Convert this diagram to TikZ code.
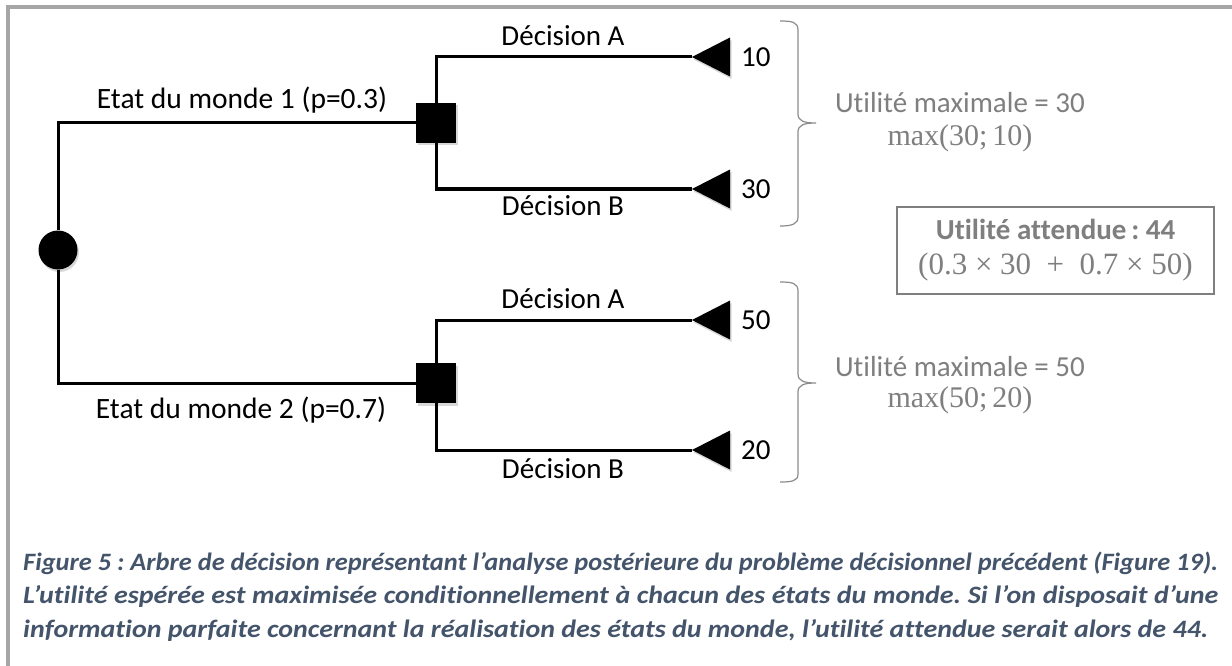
\documentclass[tikz,border=0pt]{standalone}
\usepackage{fontspec}
\setmainfont{Carlito}[Ligatures=NoCommon]
\newfontfamily\mathser{Liberation Serif}
\usepackage{graphicx}
\usetikzlibrary{shadows}
\frenchspacing
\definecolor{framegray}{HTML}{A6A6A6}
\definecolor{txtgray}{HTML}{7F7F7F}
\definecolor{bracegray}{HTML}{8C8C8C}
\definecolor{capblue}{HTML}{44546A}
\newlength\capw
\setlength\capw{1067pt}
\newcommand\capline[1]{\makebox[\capw][s]{#1}}
\newcommand\capfit[1]{\resizebox{\capw}{\height}{#1}}
\begin{document}
\begin{tikzpicture}[x=1pt,y=-1pt,
  branch/.style={line width=3pt, line join=miter},
  shad/.style={drop shadow={shadow xshift=1.5pt, shadow yshift=-2.5pt, opacity=0.3}},
  chance/.style={circle, fill=black, minimum size=39pt, inner sep=0pt, shad},
  decision/.style={rectangle, fill=black, minimum size=40pt, inner sep=0pt, shad},
  leaf/.style={fill=black, shad},
  statelbl/.style={font=\fontsize{29.5}{36}\selectfont, inner sep=0pt},
  declbl/.style={font=\fontsize{29}{34}\selectfont, inner sep=0pt},
  numlbl/.style={font=\fontsize{29}{34}\selectfont, inner sep=0pt, anchor=west},
  gtxt/.style={text=txtgray, font=\fontsize{29}{34}\selectfont, inner sep=0pt},
  mtxt/.style={text=txtgray, font=\mathser\fontsize{30}{34}\selectfont, inner sep=0pt},
  bracestyle/.style={draw=bracegray, line width=1.2pt},
  resbox/.style={draw=txtgray, line width=1.5pt, text=txtgray, align=center,
     minimum width=317pt, minimum height=87pt, inner sep=0pt,
     font=\fontsize{29}{35}\selectfont}
]
\useasboundingbox (0,0) rectangle (1232,666);
\fill[white] (0,0) rectangle (1232,666);
% frame
\draw[framegray, line width=4pt] (8,666) -- (8,7) -- (1232,7);

% nodes
\node[chance] (c) at (58,250) {};
\node[decision] (d1) at (436,123) {};
\node[decision] (d2) at (436,383) {};
\coordinate (t1) at (692,57);
\coordinate (t2) at (692,189);
\coordinate (t3) at (692,320);
\coordinate (t4) at (692,450);

% branches
\draw[branch] (c.north) |- (d1.west);
\draw[branch] (c.south) |- (d2.west);
\draw[branch] (d1.north) |- (t1);
\draw[branch] (d1.south) |- (t2);
\draw[branch] (d2.north) |- (t3);
\draw[branch] (d2.south) |- (t4);

% leaf triangles
\foreach \t in {t1,t2,t3,t4}{
  \fill[leaf] (\t) -- ++(38,-19.5) -- ++(0,39) -- cycle;
}

% labels
\node[statelbl] (s1) at (242,100) {Etat du monde 1 (p=0.3)};
\node[statelbl] (s2) at (241,410) {Etat du monde 2 (p=0.7)};
\node[declbl] (a1) at (563,36) {Décision A};
\node[declbl] (b1) at (563,206) {Décision B};
\node[declbl] (a2) at (563,299) {Décision A};
\node[declbl] (b2) at (563,469) {Décision B};
\node[numlbl] (n1) at (741,57) {10};
\node[numlbl] (n2) at (741,189) {30};
\node[numlbl] (n3) at (741,320) {50};
\node[numlbl] (n4) at (741,450) {20};

% braces
\draw[bracestyle] (780,21) .. controls (792,21) and (798,22) .. (798,30) -- (798,114)
  .. controls (798,121) and (804,123) .. (816,123)
  .. controls (804,123) and (798,125) .. (798,132) -- (798,217)
  .. controls (798,224) and (792,226) .. (780,226);
\draw[bracestyle] (780,282) .. controls (792,282) and (798,283) .. (798,291) -- (798,374)
  .. controls (798,381) and (804,383) .. (816,383)
  .. controls (804,383) and (798,385) .. (798,392) -- (798,474)
  .. controls (798,481) and (792,482) .. (780,482);

% results
\node[gtxt] (u1) at (960,103) {Utilité maximale = 30};
\node[mtxt] (m1) at (960,138) {max(30;\,10)};
\node[gtxt] (u2) at (960,367) {Utilité maximale = 50};
\node[mtxt] (m2) at (960,400) {max(50;\,20)};
\node[resbox] (ua) at (1055.5,250.5) {\textbf{Utilité attendue\,: 44}\\{\mathser\fontsize{31}{35}\selectfont (0.3 × 30 \ + \ 0.7 × 50)}};

% caption
\node[anchor=base west, inner sep=0pt, text=capblue,
      font=\bfseries\itshape\fontsize{25}{33.5}\selectfont] (cap) at (23,570)
  {\scalebox{1.12}[1]{\parbox[t]{\capw}{%
    \capfit{Figure 5 : Arbre de décision représentant l’analyse postérieure du problème décisionnel précédent (Figure 19).}\\
    \capline{L’utilité espérée est maximisée conditionnellement à chacun des états du monde. Si l’on disposait d’une}\\
    information parfaite concernant la réalisation des états du monde, l’utilité attendue serait alors de 44.}}};
\end{tikzpicture}
\end{document}
